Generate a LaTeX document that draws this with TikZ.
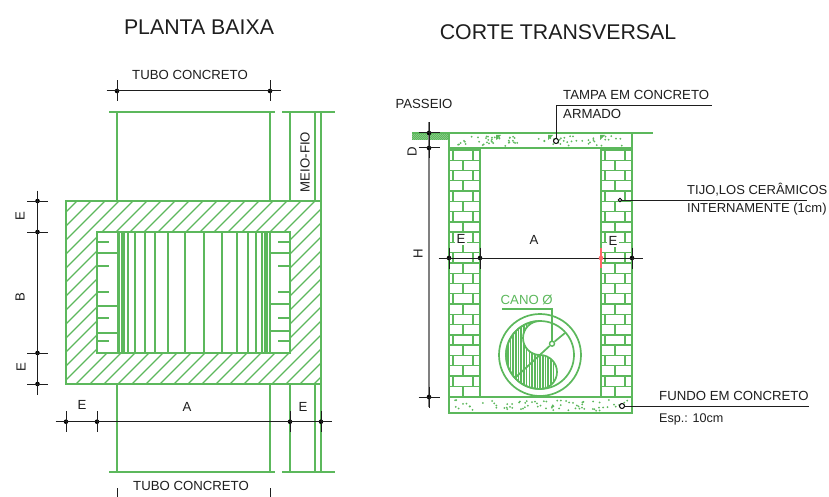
\documentclass[tikz,border=0pt]{standalone}
\usepackage{fontspec}
\setmainfont{Liberation Sans}
\definecolor{cadgreen}{RGB}{92,184,92}
\definecolor{inkk}{RGB}{30,30,30}
\tikzset{
  wall/.style={draw=cadgreen,line width=1.7pt},
  thinwall/.style={draw=cadgreen,line width=1.35pt},
  hatchline/.style={draw=cadgreen,line width=1.35pt},
  dimline/.style={draw=inkk,line width=1pt},
  dimdot/.style={circle,fill=black,inner sep=0pt,minimum size=4.6pt},
  ring/.style={circle,draw=black,fill=white,inner sep=0pt,minimum size=5pt,line width=1pt},
  lbl/.style={text=inkk,inner sep=0pt,font=\fontsize{13.2}{13.2}\selectfont},
  ttl/.style={text=inkk,inner sep=0pt,font=\fontsize{21.3}{21.3}\selectfont},
}
\newcommand{\dimx}[3]{% name, x, y : vertical tick
  \node[dimdot] (#1) at (#2,#3) {};
  \draw[dimline] (#2,#3-10.5) -- (#2,#3+10.5);
  \draw[dimline] (#2-10.5,#3) -- (#2+10.5,#3);}
\begin{document}
\begin{tikzpicture}[x=1pt,y=-1pt]
\useasboundingbox (0,0) rectangle (829,497);
\fill[white] (0,0) rectangle (829,497);

% ---------- titles
\node[ttl] (t1) at (199,27) {PLANTA BAIXA};
\node[ttl] (t2) at (558,32) {CORTE TRANSVERSAL};

% ---------- plan: hatching
\begin{scope}
  \clip (66,201) rectangle (321,384);
  \foreach \k in {0,...,36}{
    \draw[hatchline] ({-140+\k*14},390) -- ({-140+\k*14+200},190);
  }
\end{scope}
\fill[white] (97,232) rectangle (290,353);
\draw[wall] (66,201) rectangle (321,384);
\draw[wall] (97,232) rectangle (290,353);

% inner vertical lines
\foreach \x in {117.3,119,122,124,128,135,145,155,168,185,204,222,237,248,256,262,265,267,270}{
  \draw[thinwall] (\x,232) -- (\x,353);
}
% ticks of the inner box
\foreach \y in {253,306,333}{ \draw[thinwall] (97,\y) -- (117,\y); }
\foreach \y in {253,304,331}{ \draw[thinwall] (270,\y) -- (290,\y); }
\foreach \y in {242,266,292,318,341}{
  \draw[thinwall] (97,\y) -- (109,\y);
  \draw[thinwall] (278,\y) -- (290,\y);
}

% pipes top and bottom
\foreach \a/\b in {112/201,384/472}{
  \foreach \x in {117,270,290,315,321}{ \draw[thinwall] (\x,\a) -- (\x,\b); }
}
\foreach \y in {112,472}{
  \draw[thinwall] (109,\y) -- (275,\y);
  \draw[thinwall] (282,\y) -- (335,\y);
}
\node[lbl,rotate=90] (meio) at (305,162) {MEIO-FIO};

% plan dimensions
\node[lbl] (tubo1) at (190,75) {TUBO CONCRETO};
\node[lbl] (tubo2) at (191,486) {TUBO CONCRETO};
\dimx{ta}{117}{91}
\dimx{tb}{270}{91}
\draw[dimline] (ta) -- (tb);
\coordinate (bta) at (117,488); \coordinate (btb) at (270,488);
\draw[dimline] (bta) -- (117,497);
\draw[dimline] (btb) -- (270,497);

\dimx{la}{37.5}{201}
\dimx{lb}{37.5}{232}
\dimx{lc}{37.5}{353}
\dimx{ld}{37.5}{384}
\draw[dimline] (la) -- (ld);
\node[lbl,rotate=90] (le1) at (20,216) {E};
\node[lbl,rotate=90] (lb1) at (20,297) {B};
\node[lbl,rotate=90] (le2) at (21,367) {E};

\dimx{ba}{66}{421.7}
\dimx{bb}{97}{421.7}
\dimx{bc}{290}{421.7}
\dimx{bd}{321}{421.7}
\draw[dimline] (ba) -- (bd);
\node[lbl] (be1) at (82,405) {E};
\node[lbl] (ba1) at (187,407) {A};
\node[lbl] (be2) at (303,407) {E};

% ---------- section: bricks
\foreach \wx in {449,601}{
  \foreach \i in {0,...,23}{
    \pgfmathsetmacro\yy{150+\i*10.27}
    \pgfmathsetmacro\yz{150+(\i+1)*10.27}
    \draw[thinwall] (\wx,\yy) -- (\wx+31,\yy);
    \pgfmathtruncatemacro\odd{mod(\i,2)}
    \ifnum\odd=0
      \draw[thinwall] (\wx+4,\yy) -- (\wx+4,\yz);
      \draw[thinwall] (\wx+24,\yy) -- (\wx+24,\yz);
    \else
      \draw[thinwall] (\wx+14,\yy) -- (\wx+14,\yz);
    \fi
  }
  \draw[wall] (\wx,148) -- (\wx,397);
  \draw[wall] (\wx+31,148) -- (\wx+31,397);
}
% slabs
\draw[wall] (449,133) rectangle (632,148);
\draw[wall] (449,397) rectangle (632,413);
\draw[wall] (632,133) -- (653,133);
% ground hatch
\begin{scope}
  \clip (412,133) rectangle (449,140);
  \foreach \k in {0,...,24}{
    \draw[draw=cadgreen,line width=1.1pt] ({405+\k*2},141) -- ({405+\k*2+9},132);
  }
\end{scope}
\draw[wall] (412,133) -- (449,133);
% concrete speckle
\pgfmathsetseed{11}
\foreach \i in {1,...,75}{
  \pgfmathsetmacro\px{458+rnd*168}
  \pgfmathsetmacro\py{136+rnd*10}
  \fill[cadgreen] (\px,\py) circle (1);
}
\foreach \i in {1,...,75}{
  \pgfmathsetmacro\px{453+rnd*176}
  \pgfmathsetmacro\py{400+rnd*11}
  \fill[cadgreen] (\px,\py) circle (1);
}
\foreach \x in {496,548,600}{
  \fill[cadgreen] (\x,135) -- (\x+5,135) -- (\x,140) -- cycle;
}

% pipe
\draw[wall] (540,355) circle (41);
\draw[wall] (540,355) circle (34);
\begin{scope}
  \clip (540,321) arc[start angle=270,end angle=90,radius=34]
        arc[start angle=90,end angle=-90,radius=17]
        arc[start angle=90,end angle=270,radius=17] -- cycle;
  \foreach \k in {0,...,32}{
    \draw[draw=cadgreen,line width=1.6pt] ({505+\k*2.7},320) -- ({505+\k*2.7},390);
  }
\end{scope}
\draw[wall] (540,321) arc[start angle=270,end angle=90,radius=34]
        arc[start angle=90,end angle=-90,radius=17]
        arc[start angle=90,end angle=270,radius=17] -- cycle;
\node[circle,draw=cadgreen,fill=white,line width=1.4pt,inner sep=0pt,minimum size=5pt] (canoDot) at (552,343.7) {};
\coordinate (diagA) at (516,377);
\coordinate (diagB) at (565,333);
\draw[wall] (diagA) -- (canoDot) -- (diagB);
\coordinate (canoEnd) at (502,309);
\draw[wall] (canoDot.north) |- (canoEnd);
\node[lbl,text=cadgreen,anchor=west] (cano) at (500.5,300) {CANO Ø};

% section labels and dimensions
\node[lbl,fill=white,inner sep=1.5pt] (se1) at (461,239) {E};
\node[lbl,fill=white,inner sep=1.5pt] (se2) at (613,241) {E};
\node[lbl] (sa) at (534,240) {A};
\node[lbl,rotate=90] (sh) at (418,254) {H};
\node[lbl,rotate=90] (sd) at (412,152) {D};
\node[lbl] (pas) at (424,104) {PASSEIO};

\draw[draw=gray,line width=1.5pt] (429,122) -- (429,407);
\dimx{va}{429}{133}
\dimx{vb}{429}{148}
\dimx{vc}{429}{397}

\dimx{ha}{449}{258}
\dimx{hb}{480}{258}
\dimx{hd}{632}{258}
\draw[dimline] (ha) -- (hd);
\draw[draw=red!60!white,line width=1.5pt] (601,248) -- (601,268);
\node[dimdot,fill=red!60!white] (hc) at (601,258) {};

% leaders
\node[ring] (tampaDot) at (556,141) {};
\coordinate (tampaEnd) at (712,106);
\draw[dimline] (tampaDot) |- (tampaEnd);
\node[lbl,anchor=west] (tampa1) at (563,95) {TAMPA EM CONCRETO};
\node[lbl,anchor=west] (tampa2) at (563,114) {ARMADO};

\node[ring,minimum size=3.5pt] (tijDot) at (620,200) {};
\coordinate (tijEnd) at (807,200);
\draw[dimline] (tijDot) -- (tijEnd);
\node[lbl,anchor=west,font=\fontsize{13}{13}\selectfont] (tij1) at (687,190) {TIJO,LOS CERÂMICOS};
\node[lbl,anchor=west,font=\fontsize{13}{13}\selectfont] (tij2) at (687,209) {INTERNAMENTE (1cm)};

\node[ring] (funDot) at (622,406) {};
\coordinate (funEnd) at (809,406);
\draw[dimline] (funDot) -- (funEnd);
\node[lbl,anchor=west] (fun1) at (659,396) {FUNDO EM CONCRETO};
\node[lbl,anchor=west] (fun2) at (659,419) {\fontsize{12.6}{12.6}\selectfont Esp.: 10cm};
\end{tikzpicture}
\end{document}
